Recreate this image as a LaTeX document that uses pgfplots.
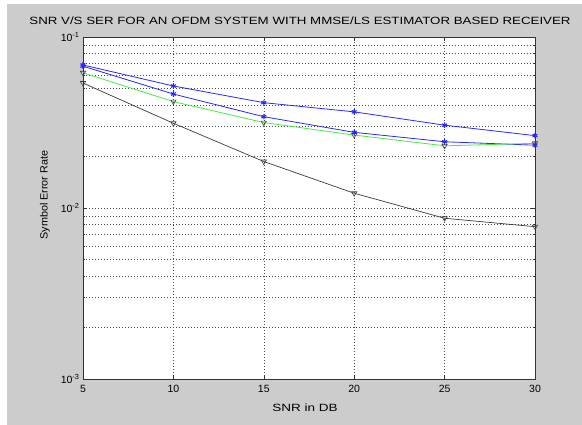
\documentclass[border=0pt]{standalone}
\usepackage{pgfplots}
\pgfplotsset{compat=1.18}
\usepackage{fontspec}
\setmainfont{Liberation Sans}
\definecolor{figgray}{RGB}{204,204,204}
\definecolor{mblue}{RGB}{40,40,255}
\definecolor{mgreen}{RGB}{70,235,70}
\definecolor{mblack}{RGB}{60,60,60}
\begin{document}
\begin{tikzpicture}
\useasboundingbox (0pt,0pt) rectangle (582pt,425pt);
\fill[white] (0pt,0pt) rectangle (582pt,425pt);
\fill[figgray] (7pt,0pt) rectangle (582pt,421pt);
\node[font=\fontsize{10}{12}\selectfont, anchor=center, inner sep=0pt] at (300pt,404pt) {\scalebox{1.33}[1.05]{SNR V/S SER FOR AN OFDM SYSTEM WITH MMSE/LS ESTIMATOR BASED RECEIVER}};
\node[font=\fontsize{10}{12}\selectfont, anchor=center, inner sep=0pt] at (305pt,17pt) {\scalebox{1.35}[1.05]{SNR in DB}};
\node[font=\fontsize{10}{12}\selectfont, anchor=center, inner sep=0pt, rotate=90] at (45pt,230pt) {\scalebox{1.08}[1.05]{Symbol Error Rate}};
\begin{axis}[
  at={(83pt,46pt)}, anchor=south west,
  width=452pt, height=342pt, scale only axis,
  axis background/.style={fill=white},
  ymode=log, ymin=1e-3, ymax=1e-1, xmin=5, xmax=30,
  xtick={5,10,15,20,25,30},
  ytick={1e-3,1e-2,1e-1},
  yticklabels={10\textsuperscript{-3},10\textsuperscript{-2},10\textsuperscript{-1}},
  /pgf/number format/assume math mode=true,
  tick align=inside, major tick length=4pt, minor tick length=2pt,
  xmajorgrids, ymajorgrids, yminorgrids,
  major grid style={dash pattern=on 1pt off 2pt, black!70, line width=0.6pt},
  minor grid style={dash pattern=on 1pt off 2pt, black!70, line width=0.6pt},
  tick label style={font=\fontsize{10.5}{12}\selectfont},
  xticklabel style={yshift=-3pt},
  axis line style={line width=0.8pt, black!80},
  every tick/.style={black!80, line width=0.5pt},
  clip=false,
]
\addplot[mblue, line width=0.8pt, mark=asterisk, mark size=2.8pt, mark options={line width=1.1pt}] coordinates {
 (5,0.0686) (10,0.0517) (15,0.0413) (20,0.0365) (25,0.0305) (30,0.0265)};
\addplot[mblue, line width=0.8pt, mark=asterisk, mark size=2.8pt, mark options={line width=1.1pt}] coordinates {
 (5,0.0675) (10,0.0464) (15,0.0342) (20,0.0277) (25,0.0244) (30,0.0233)};
\addplot[mgreen, line width=0.8pt, mark=triangle, mark size=3pt, mark options={draw=mblack, rotate=180, line width=0.6pt, fill=none}] coordinates {
 (5,0.0618) (10,0.0419) (15,0.0316) (20,0.0267) (25,0.0231) (30,0.0239)};
\addplot[mblack, line width=0.7pt, mark=triangle, mark size=3pt, mark options={draw=mblack, rotate=180, line width=0.6pt, fill=none}] coordinates {
 (5,0.0538) (10,0.0313) (15,0.0187) (20,0.0122) (25,0.00871) (30,0.00778)};
\end{axis}
\end{tikzpicture}
\end{document}
